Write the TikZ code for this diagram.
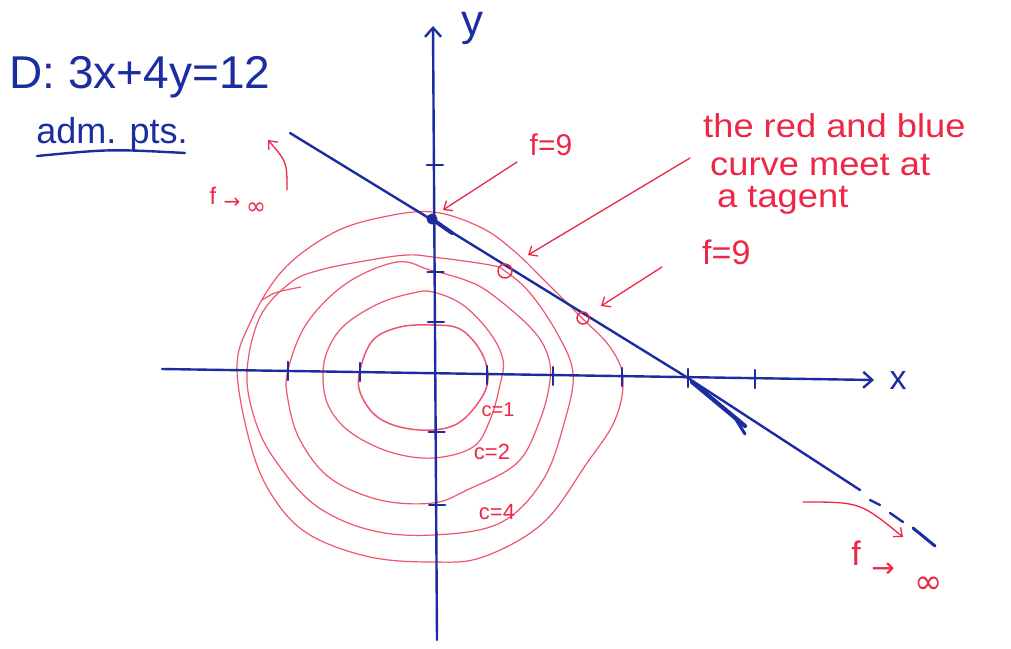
\documentclass[tikz,border=0pt]{standalone}
\usepackage{fontspec}
\setmainfont{Liberation Sans}
\newfontfamily\symfont{DejaVu Sans}
\usetikzlibrary{arrows.meta}
\definecolor{penblue}{RGB}{28,45,160}
\definecolor{penred}{RGB}{236,40,70}
\definecolor{curvered}{RGB}{240,85,108}
\tikzset{
 bluepen/.style={draw=penblue,line width=2.4pt,line cap=round,line join=round},
 axisarrow/.style={-{Straight Barb[length=9pt,width=16pt,line width=2.4pt]}},
 contour/.style={draw=curvered,line width=1.2pt},
 redpen/.style={draw=penred,line width=1.3pt,line cap=round,-{Straight Barb[length=7pt,width=12pt]}},
 bluetext/.style={text=penblue,inner sep=0pt},
 redtext/.style={text=penred,inner sep=0pt},
 notetext/.style={redtext,font=\fontsize{33}{36}\selectfont,anchor=base west,xscale=1.1},
 tickmark/.style={draw=penblue,line width=2.4pt,line cap=round},
}
\begin{document}
\begin{tikzpicture}[x=1pt,y=-1pt]
\useasboundingbox[fill=white] (0,0) rectangle (1011,648);
% level curves
\draw[contour,line width=1.5pt] plot[smooth cycle,tension=0.6] coordinates {(433,325) (460,329) (480,350) (488,375) (482,397) (460,422) (433,430) (400,427) (375,415) (360,392) (360,370) (373,340) (400,327)};
\draw[contour] plot[smooth cycle,tension=0.6] coordinates {(433,292) (463,305) (490,333) (503,360) (500,385) (490,420) (473,447) (433,458) (390,452) (350,432) (328,405) (323,372) (330,345) (347,323) (380,303) (413,293)};
\draw[contour] plot[smooth cycle,tension=0.6] coordinates {(430,270) (465,280) (490,293) (530,327) (547,353) (550,380) (540,420) (517,463) (467,490) (433,503) (380,500) (330,478) (300,440) (288,400) (288,370) (307,323) (347,283) (397,262)};
\draw[contour] plot[smooth cycle,tension=0.6] coordinates {(433,257) (490,265) (505,271) (530,293) (557,333) (573,373) (565,420) (543,480) (500,523) (433,535) (370,530) (315,505) (275,460) (255,420) (247,372) (260,317) (290,283) (320,270) (370,260) (407,255)};
\draw[contour] plot[smooth cycle,tension=0.6] coordinates {(433,212) (480,227) (513,250) (547,283) (582,318) (610,347) (623,378) (615,420) (587,463) (543,523) (483,557) (433,562) (370,557) (310,535) (275,500) (252,450) (237,370) (250,323) (283,270) (333,233) (383,217)};
\draw[contour] (262,300) .. controls (275,292) .. (301,287);
% axes
\coordinate (xL) at (162,369);
\coordinate (xR) at (874,380);
\coordinate (yB) at (437,640);
\coordinate (yT) at (433,26);
\draw[bluepen,axisarrow] (xL) -- (xR);
\draw[bluepen,axisarrow] (yB) -- (yT);
\foreach \x/\y in {288/371,360/372,487/375,553/376,622/377,688/378,755/379}
  \draw[tickmark] (\x,{\y-9}) -- (\x,{\y+9});
\foreach \y in {165,272,322,432,505}
  \draw[tickmark] ({426+(\y-28)*0.0065},\y) -- ({442+(\y-28)*0.0065},\y);
% constraint line D
\coordinate (L0) at (290,133);
\coordinate (L1) at (432,220);
\coordinate (L2) at (688,378);
\coordinate (L3) at (860,490);
\draw[bluepen] (L0) -- (L1) -- (L2) -- (L3);
\draw[bluepen,line width=4pt] (432,219) -- (452,233);
\draw[bluepen,line width=4.2pt] (692,382) -- (745,426);
\draw[bluepen,line width=3pt] (735,418) -- (745,434);
\draw[bluepen] (870,500) -- (880,505);
\draw[bluepen] (890,513) -- (903,522);
\draw[bluepen,line width=3pt] (913,528) -- (935,546);
\fill[penblue] (432,219) circle (5.5);
% marked points
\draw[penred,line width=1.4pt] (505,271) circle (7);
\draw[penred,line width=1.4pt] (583,318) circle (6);
% texts
\node[bluetext,font=\fontsize{46}{50}\selectfont] (D) at (140,77) {D: 3x+4y=12};
\node[bluetext,font=\fontsize{36}{40}\selectfont] (adm) at (112,134) {adm. pts.};
\draw[bluepen] (37,156) .. controls (110,149) .. (185,153);
\node[bluetext,font=\fontsize{44}{48}\selectfont,anchor=base,text height=0.55em] (ylab) at (472,35) {y};
\node[bluetext,font=\fontsize{34}{38}\selectfont] (xlab) at (898,381) {x};
\node[redtext,font=\fontsize{30}{34}\selectfont] (f9a) at (551,145) {f=9};
\node[notetext] (t1) at (703,137) {the red and blue};
\node[notetext] (t2) at (710,175) {curve meet at};
\node[notetext] (t3) at (717,207) {a tagent};
\node[redtext,font=\fontsize{34}{38}\selectfont,anchor=base west] (f9b) at (702,264) {f=9};
\node[redtext,font=\fontsize{20}{24}\selectfont] (c1) at (498,410) {c=1};
\node[redtext,font=\fontsize{22}{26}\selectfont] (c2) at (492,452) {c=2};
\node[redtext,font=\fontsize{22}{26}\selectfont] (c4) at (497,512) {c=4};
% f -> infinity (top left)
\node[redtext,font=\fontsize{24}{26}\selectfont] (fA) at (213,196) {f};
\node[redtext,font=\symfont\fontsize{20}{22}\selectfont] (toA) at (232,203) {→};
\node[redtext,font=\symfont\fontsize{24}{26}\selectfont] (infA) at (256,209) {∞};
% f -> infinity (bottom right)
\node[redtext,font=\fontsize{34}{36}\selectfont] (fB) at (856,553) {f};
\node[redtext,font=\symfont\fontsize{28}{30}\selectfont] (toB) at (883,570) {→};
\node[redtext,font=\symfont\fontsize{34}{36}\selectfont] (infB) at (929,585) {∞};
% red arrows
\coordinate (a1s) at (287,190); \coordinate (a1e) at (268,140);
\draw[redpen] (a1s) .. controls (287,162) .. (a1e);
\coordinate (a2s) at (517,162); \coordinate (a2e) at (443,210);
\draw[redpen] (a2s) -- (a2e);
\coordinate (a3s) at (690,158); \coordinate (a3e) at (528,255);
\draw[redpen] (a3s) -- (a3e);
\coordinate (a4s) at (662,267); \coordinate (a4e) at (601,306);
\draw[redpen] (a4s) -- (a4e);
\coordinate (a5s) at (803,502); \coordinate (a5e) at (903,537);
\draw[redpen] (a5s) .. controls (860,502) .. (a5e);
\end{tikzpicture}
\end{document}
